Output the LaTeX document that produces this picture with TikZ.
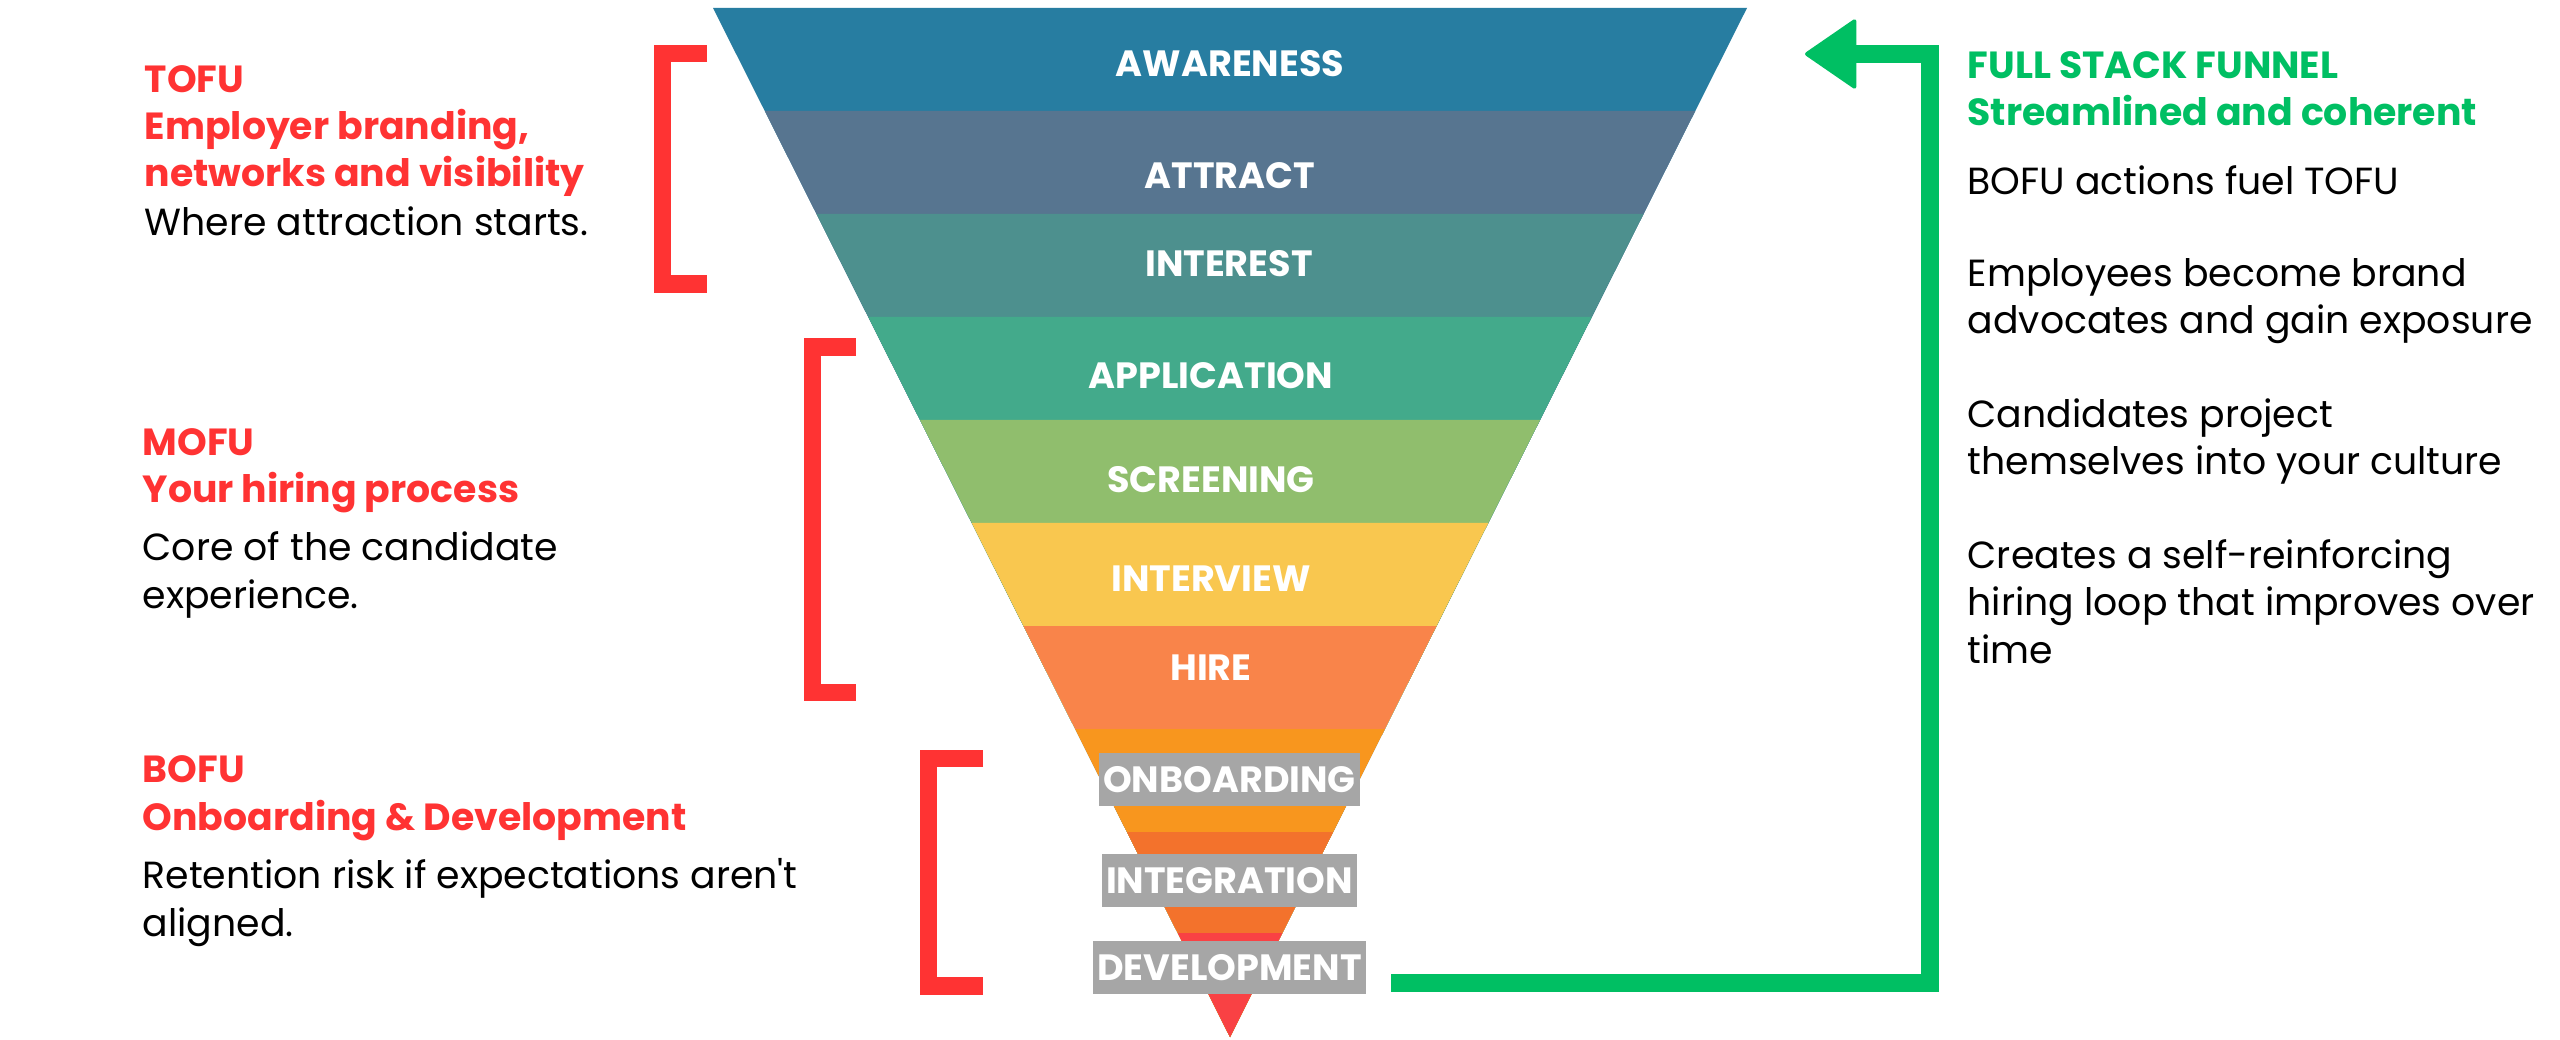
\documentclass[tikz,border=0pt]{standalone}
\usepackage{fontspec}
\setmainfont{Poppins}[Ligatures=TeXOff]
\usepackage{xcolor}
\usepackage{tikz}
\usetikzlibrary{positioning, arrows.meta}

\definecolor{cAware}{HTML}{277DA1}
\definecolor{cAttract}{HTML}{577590}
\definecolor{cInterest}{HTML}{4D908E}
\definecolor{cApply}{HTML}{43AA8B}
\definecolor{cScreen}{HTML}{90BE6D}
\definecolor{cInterview}{HTML}{F9C74F}
\definecolor{cHire}{HTML}{F9844A}
\definecolor{cOnboard}{HTML}{F8961E}
\definecolor{cIntegr}{HTML}{F3722C}
\definecolor{cDevel}{HTML}{F94144}
\definecolor{boxgrey}{HTML}{A6A6A6}
\definecolor{fured}{HTML}{FF3333}
\definecolor{loopgreen}{HTML}{00BF63}

\tikzset{
  stagelbl/.style={text=white, font=\bfseries\fontsize{10.4}{12}\selectfont, inner sep=0pt, anchor=base},
  stagebox/.style={fill=boxgrey, text=white, font=\bfseries\fontsize{10.4}{12}\selectfont, inner xsep=0.04cm, inner ysep=0.14cm, text height=0.25cm, text depth=0cm, anchor=base},
  fuhead/.style={text=fured, font=\bfseries\fontsize{10.75}{13.4}\selectfont, align=left, anchor=base west, inner sep=0pt},
  fubody/.style={text=black, font=\fontsize{10.75}{13.4}\selectfont, align=left, anchor=base west, inner sep=0pt},
  bracket/.style={draw=fured, line width=0.17cm},
  loopline/.style={draw=loopgreen, line width=0.18cm, -{Triangle[length=0.53cm, width=0.72cm, line width=0.04cm, round]}},
}

\begin{document}
\begin{tikzpicture}[x=0.01cm, y=-0.01cm]
\fill[white] (0,0) rectangle (2560,1040);
\useasboundingbox (0,0) rectangle (2560,1040);
\coordinate (apex) at (1230,1037);
% funnel bands, each one drawn down to the apex
\foreach \ya/\col in {8/cAware, 111/cAttract, 214/cInterest, 317/cApply, 420/cScreen, 523/cInterview, 626/cHire, 729/cOnboard, 832/cIntegr, 933/cDevel}{
  \pgfmathsetmacro{\wa}{(1037-\ya)/1029*517}
  \fill[\col] (1230-\wa,\ya) -- (1230+\wa,\ya) -- (apex) -- cycle;
}
\node[stagelbl] (aware) at (1230,77) {AWARENESS};
\node[stagelbl] (attract) at (1230,189) {ATTRACT};
\node[stagelbl] (interest) at (1229,277) {INTEREST};
\node[stagelbl] (apply) at (1211,389) {APPLICATION};
\node[stagelbl] (screen) at (1211,492) {SCREENING};
\node[stagelbl] (interview) at (1211,592) {INTERVIEW};
\node[stagelbl] (hire) at (1211,680) {HIRE};
\node[stagebox] (onboard) at (1229.5,792) {ONBOARDING};
\node[stagebox] (integr) at (1229.5,893) {INTEGRATION};
\node[stagebox] (devel) at (1229.5,980) {DEVELOPMENT};
% brackets
\draw[bracket] (707,54) -- (662.5,54) -- (662.5,284) -- (707,284); % TOFU
\draw[bracket] (856,347) -- (812,347) -- (812,692.5) -- (856,692.5); % MOFU
\draw[bracket] (983,758.5) -- (928,758.5) -- (928,986) -- (983,986); % BOFU
% left texts (placed at the baseline of their last line)
\node[fuhead] (tofu) at (144,187) {TOFU\\Employer branding,\\networks and visibility};
\node[fubody] (tofutxt) at (144,236) {Where attraction starts.};
\node[fuhead] (mofu) at (142,503) {MOFU\\Your hiring process};
\node[fubody] (mofutxt) at (142,608) {Core of the candidate\\experience.};
\node[fuhead] (bofu) at (142,830) {BOFU\\Onboarding \& Development};
\node[fubody] (bofutxt) at (142,936) {Retention risk if expectations aren't\\aligned.};
% loop back to the top
\coordinate (looptop) at (1930,54);
\coordinate (looptip) at (1805,54);
\draw[loopline] ([xshift=0.25cm, yshift=-0.15cm]devel.east) -| (looptop) -- (looptip);
% right texts
\node[fuhead, text=loopgreen] (fullstack) at (1967,126) {FULL STACK FUNNEL\\Streamlined and coherent};
\node[fubody] (fuel) at (1967,195) {BOFU actions fuel TOFU};
\node[fubody] (advocates) at (1967,334) {Employees become brand\\advocates and gain exposure};
\node[fubody] (project) at (1967,475) {Candidates project\\themselves into your culture};
\node[fubody] (selfloop) at (1967,663) {Creates a self-reinforcing\\hiring loop that improves over\\time};
\end{tikzpicture}
\end{document}
